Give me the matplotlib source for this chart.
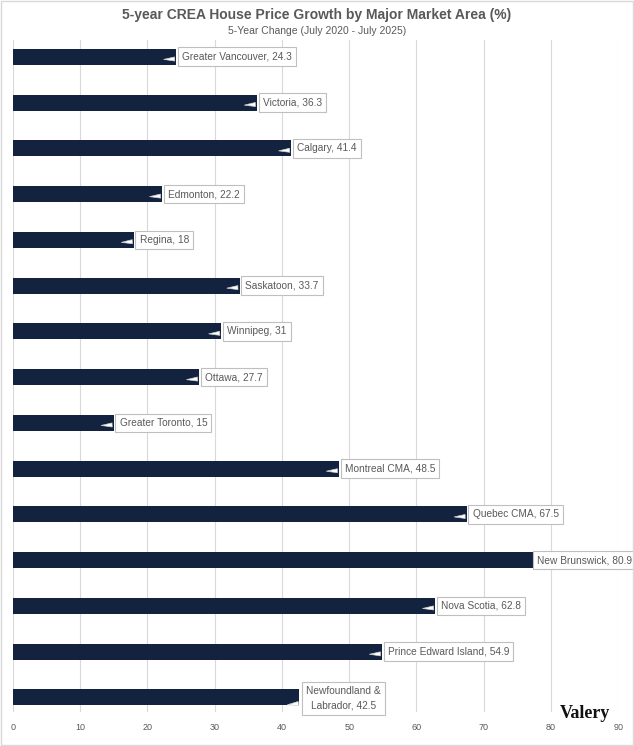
import matplotlib.pyplot as plt
from matplotlib.patches import Rectangle

markets = ["Greater Vancouver", "Victoria", "Calgary", "Edmonton", "Regina",
           "Saskatoon", "Winnipeg", "Ottawa", "Greater Toronto", "Montreal CMA",
           "Quebec CMA", "New Brunswick", "Nova Scotia", "Prince Edward Island",
           "Newfoundland & Labrador"]
growth = [24.3, 36.3, 41.4, 22.2, 18, 33.7, 31, 27.7, 15, 48.5,
          67.5, 80.9, 62.8, 54.9, 42.5]
xticks = [0, 10, 20, 30, 40, 50, 60, 70, 80, 90]

bar_color = "#13233f"
grey_text = "#595959"

plt.rcParams["font.family"] = ["Liberation Sans", "DejaVu Sans"]

fig = plt.figure(figsize=(6.34, 7.46), dpi=100)
ax = fig.add_axes([0.0205, 0.0456, 0.9545, 0.9004])

ypos = list(range(len(markets)))
ax.barh(ypos, growth, height=0.35, color=bar_color, zorder=2)

ax.set_xlim(0, 90)
ax.set_ylim(14.32, -0.36)
ax.set_xticks(xticks)
ax.set_xticklabels([str(t) for t in xticks])
ax.set_yticks([])
ax.grid(axis="x", color="#d9d9d9", lw=0.8, zorder=0)
ax.tick_params(axis="x", length=0, labelsize=6.5, labelcolor=grey_text, pad=8)
for s in ax.spines.values():
    s.set_visible(False)

box = dict(boxstyle="square,pad=0.42", fc="white", ec="#bfbfbf", lw=0.8)
arrow = dict(arrowstyle="wedge,tail_width=0.4,shrink_factor=0.5",
             fc="white", ec="#cfcfcf", lw=0.5)

for i, (name, val) in enumerate(zip(markets, growth)):
    label = f"{name}, {val:g}"
    if name == "New Brunswick":
        ax.annotate(label, xy=(val, i), xytext=(77.9, i), ha="left", va="center",
                    fontsize=7.3, color=grey_text, bbox=box, zorder=4)
    elif name.startswith("Newfoundland"):
        ax.annotate("Newfoundland &\nLabrador, 42.5", xy=(val - 2.1, i + 0.17),
                    xytext=(val + 6.6, i + 0.02), ha="center", va="center",
                    fontsize=7.3, color=grey_text, bbox=box, arrowprops=arrow,
                    linespacing=1.55, zorder=4)
    else:
        ax.annotate(label, xy=(val - 2.3, i + 0.06), xytext=(val + 0.85, i),
                    ha="left", va="center", fontsize=7.3, color=grey_text,
                    bbox=box, arrowprops=arrow, zorder=4)

fig.text(0.5, 0.980, "5-year CREA House Price Growth by Major Market Area (%)",
         ha="center", va="center", fontsize=10, fontweight="bold", color=grey_text)
fig.text(0.5, 0.958, "5-Year Change (July 2020 - July 2025)",
         ha="center", va="center", fontsize=7.5, color=grey_text)

fig.text(0.962, 0.043, "Valery", ha="right", va="center", fontsize=13,
         fontweight="bold", family="Liberation Serif", color="#111111")

fig.patches.append(Rectangle((0.001, 0.001), 0.998, 0.998, transform=fig.transFigure,
                             fill=False, ec="#d9d9d9", lw=1))

fig.savefig("out.png", dpi=100)
